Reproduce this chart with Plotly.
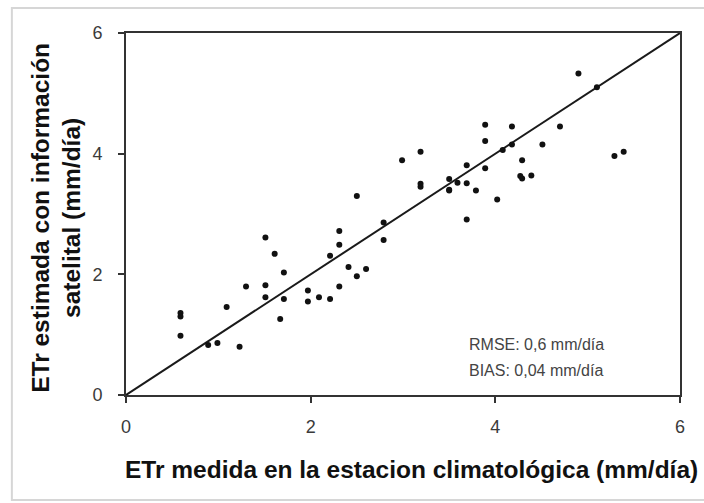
import plotly.graph_objects as go

# ETr measured at the weather station vs ETr estimated from satellite data (mm/día)
etr_medida = [
    0.59, 0.59, 0.59, 0.89, 0.99, 1.23, 1.09, 1.30, 1.51, 1.51, 1.67, 1.71,
    1.97, 1.97, 2.09, 1.51, 1.61, 1.71, 2.21, 2.31, 2.41, 2.50, 2.60, 2.21,
    2.31, 2.31, 2.50, 2.79, 2.79, 3.19, 3.19, 3.50, 2.99, 3.19, 3.50, 3.50,
    3.59, 3.69, 3.69, 3.69, 3.79, 3.89, 3.89, 3.89, 4.02, 4.08, 4.18, 4.18,
    4.29, 4.29, 4.27, 4.39, 4.51, 4.70, 4.90, 5.10, 5.29, 5.39,
]
etr_estimada = [
    1.36, 1.30, 0.98, 0.83, 0.86, 0.80, 1.46, 1.80, 1.82, 1.62, 1.26, 1.59,
    1.73, 1.55, 1.62, 2.61, 2.34, 2.03, 1.59, 1.80, 2.12, 1.97, 2.09, 2.31,
    2.49, 2.72, 3.30, 2.86, 2.57, 3.50, 3.45, 3.40, 3.89, 4.03, 3.58, 3.39,
    3.52, 3.81, 3.51, 2.91, 3.39, 4.48, 4.21, 3.76, 3.24, 4.06, 4.45, 4.15,
    3.89, 3.59, 3.63, 3.64, 4.15, 4.45, 5.33, 5.10, 3.96, 4.03,
]
linea_1a1 = [0, 6]
ticks = [0, 2, 4, 6]
rmse_txt = "RMSE: 0,6 mm/día"
bias_txt = "BIAS: 0,04 mm/día"

fig = go.Figure()
fig.add_trace(go.Scatter(
    x=linea_1a1, y=linea_1a1, mode="lines",
    line=dict(color="#1a1a1a", width=2), hoverinfo="skip",
))
fig.add_trace(go.Scatter(
    x=etr_medida, y=etr_estimada, mode="markers",
    marker=dict(color="#111111", size=6),
))

axis_common = dict(
    range=[0, 6], tickvals=ticks, showgrid=False, zeroline=False,
    showline=True, linecolor="#333333", linewidth=2, mirror=True,
    ticks="outside", ticklen=6, tickwidth=1.5, tickcolor="#333333",
    tickfont=dict(family="Liberation Sans, Arial", size=18, color="#3a3a3a"),
)

fig.update_layout(
    width=704, height=503,
    margin=dict(l=126, r=24, t=33, b=108),
    paper_bgcolor="white", plot_bgcolor="white",
    showlegend=False,
    xaxis=dict(**axis_common, ticklabelstandoff=8),
    yaxis=dict(**axis_common, ticklabelstandoff=12),
    font=dict(family="Liberation Sans, Arial"),
)

# outer frame around the figure
fig.add_shape(type="rect", xref="paper", yref="paper",
              x0=-0.206, x1=1.06, y0=-0.29, y1=1.069,
              line=dict(color="#d6d6d6", width=2), layer="below")

fig.add_annotation(text="<b>ETr medida en la estacion climatológica (mm/día)</b>",
                   xref="paper", yref="paper", x=0.515, y=-0.207,
                   showarrow=False, xanchor="center", yanchor="middle",
                   font=dict(size=24.5, color="#111111"))
fig.add_annotation(text="<b>ETr estimada con información<br>satelital (mm/día)</b>",
                   xref="paper", yref="paper", x=-0.126, y=0.49,
                   textangle=-90, showarrow=False,
                   xanchor="center", yanchor="middle",
                   font=dict(size=24.5, color="#111111"))

fig.add_annotation(text=rmse_txt, x=3.69, y=0.84, xref="x", yref="y",
                   showarrow=False, xanchor="left", yanchor="middle",
                   font=dict(size=16, color="#444444"))
fig.add_annotation(text=bias_txt, x=3.69, y=0.41, xref="x", yref="y",
                   showarrow=False, xanchor="left", yanchor="middle",
                   font=dict(size=16, color="#444444"))

fig.write_html("out.html")
